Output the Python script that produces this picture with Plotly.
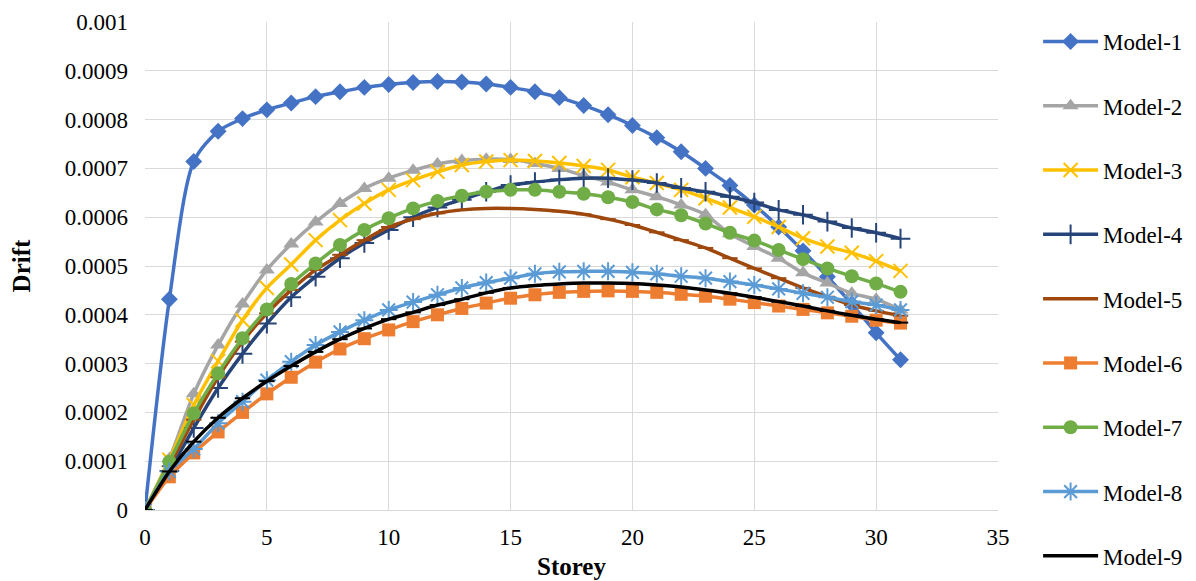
import plotly.graph_objects as go

storey = list(range(0, 32))

model_1 = [0, 0.000432, 0.000714, 0.000776, 0.000802, 0.000820, 0.000834, 0.000847, 0.000857, 0.000866,
           0.000872, 0.000876, 0.000878, 0.000877, 0.000873, 0.000866, 0.000857, 0.000845, 0.000829, 0.000810,
           0.000788, 0.000763, 0.000734, 0.000700, 0.000665, 0.000625, 0.000580, 0.000531, 0.000478, 0.000422,
           0.000363, 0.000308]
model_2 = [0, 0.000105, 0.000238, 0.000338, 0.000422, 0.000492, 0.000545, 0.000590, 0.000628, 0.000659,
           0.000680, 0.000696, 0.000709, 0.000716, 0.000719, 0.000718, 0.000710, 0.000700, 0.000685, 0.000672,
           0.000656, 0.000642, 0.000625, 0.000605, 0.000566, 0.000540, 0.000516, 0.000486, 0.000465, 0.000444,
           0.000432, 0.000410]
model_3 = [0, 0.000103, 0.000215, 0.000305, 0.000389, 0.000455, 0.000503, 0.000553, 0.000594, 0.000628,
           0.000656, 0.000676, 0.000693, 0.000707, 0.000714, 0.000717, 0.000715, 0.000711, 0.000705, 0.000697,
           0.000682, 0.000670, 0.000656, 0.000639, 0.000620, 0.000601, 0.000580, 0.000557, 0.000540, 0.000527,
           0.000510, 0.000490]
model_4 = [0, 0.000080, 0.000168, 0.000250, 0.000320, 0.000382, 0.000436, 0.000478, 0.000516, 0.000547,
           0.000574, 0.000600, 0.000620, 0.000636, 0.000652, 0.000666, 0.000672, 0.000677, 0.000680, 0.000680,
           0.000676, 0.000670, 0.000660, 0.000652, 0.000642, 0.000630, 0.000615, 0.000605, 0.000591, 0.000578,
           0.000568, 0.000556]
model_5 = [0, 0.000090, 0.000185, 0.000272, 0.000345, 0.000403, 0.000451, 0.000492, 0.000523, 0.000553,
           0.000580, 0.000596, 0.000608, 0.000615, 0.000618, 0.000618, 0.000616, 0.000612, 0.000606, 0.000596,
           0.000584, 0.000569, 0.000553, 0.000537, 0.000516, 0.000495, 0.000475, 0.000455, 0.000437, 0.000420,
           0.000408, 0.000398]
model_6 = [0, 0.000068, 0.000117, 0.000160, 0.000200, 0.000238, 0.000272, 0.000303, 0.000330, 0.000351,
           0.000369, 0.000386, 0.000400, 0.000413, 0.000424, 0.000434, 0.000441, 0.000446, 0.000448, 0.000449,
           0.000448, 0.000446, 0.000442, 0.000438, 0.000432, 0.000425, 0.000418, 0.000411, 0.000404, 0.000397,
           0.000389, 0.000383]
model_7 = [0, 0.000099, 0.000198, 0.000280, 0.000352, 0.000411, 0.000463, 0.000505, 0.000543, 0.000574,
           0.000598, 0.000618, 0.000633, 0.000644, 0.000652, 0.000656, 0.000656, 0.000652, 0.000648, 0.000641,
           0.000631, 0.000616, 0.000604, 0.000587, 0.000568, 0.000552, 0.000533, 0.000514, 0.000495, 0.000479,
           0.000464, 0.000447]
model_8 = [0, 0.000079, 0.000125, 0.000178, 0.000222, 0.000266, 0.000304, 0.000338, 0.000365, 0.000389,
           0.000410, 0.000426, 0.000441, 0.000455, 0.000466, 0.000475, 0.000484, 0.000488, 0.000489, 0.000489,
           0.000487, 0.000484, 0.000479, 0.000475, 0.000468, 0.000461, 0.000453, 0.000444, 0.000436, 0.000427,
           0.000420, 0.000410]
model_9 = [0, 0.000079, 0.000140, 0.000189, 0.000229, 0.000264, 0.000295, 0.000324, 0.000350, 0.000372,
           0.000391, 0.000405, 0.000420, 0.000432, 0.000445, 0.000455, 0.000460, 0.000463, 0.000465, 0.000465,
           0.000464, 0.000461, 0.000457, 0.000451, 0.000444, 0.000436, 0.000427, 0.000418, 0.000408, 0.000399,
           0.000391, 0.000384]

names = ["Model-1", "Model-2", "Model-3", "Model-4", "Model-5", "Model-6", "Model-7", "Model-8", "Model-9"]
series = [model_1, model_2, model_3, model_4, model_5, model_6, model_7, model_8, model_9]

y_tick_vals = [0, 0.0001, 0.0002, 0.0003, 0.0004, 0.0005, 0.0006, 0.0007, 0.0008, 0.0009, 0.001]
y_tick_text = ["0", "0.0001", "0.0002", "0.0003", "0.0004", "0.0005", "0.0006", "0.0007", "0.0008", "0.0009", "0.001"]
x_tick_vals = [0, 5, 10, 15, 20, 25, 30, 35]

colors = ["#4472C4", "#A5A5A5", "#FFC000", "#264478", "#9E480E", "#ED7D31", "#70AD47", "#5B9BD5", "#000000"]
symbols = ["diamond", "triangle-up", "x-thin-open", "cross-thin-open", "line-ew-open", "square", "circle",
           "asterisk-open", "line-ew-open"]
sizes = [13, 14, 14, 14, 11, 13, 14, 15, 11]

FONT = "Liberation Serif"

fig = go.Figure()
for i, (nm, ys) in enumerate(zip(names, series)):
    fig.add_trace(go.Scatter(
        x=storey, y=ys, name=nm, mode="lines+markers",
        legendgroup=nm,
        line=dict(color=colors[i], width=3.5, shape="spline", smoothing=0.8),
        marker=dict(symbol=symbols[i], size=sizes[i], color=colors[i],
                    line=dict(color=colors[i], width=2 if "open" in symbols[i] else 0)),
    ))

fig.update_layout(
    width=1196, height=581,
    margin=dict(l=145, r=198, t=22, b=71, autoexpand=False),
    paper_bgcolor="white", plot_bgcolor="white",
    font=dict(family=FONT, size=23, color="black"),
    legend=dict(x=1.047, y=1.0 + 2 / 488, xanchor="left", yanchor="top",
                font=dict(family=FONT, size=23), tracegroupgap=31.4, itemwidth=55,
                maxheight=620, bgcolor="rgba(0,0,0,0)"),
    xaxis=dict(range=[0, 35], tickvals=x_tick_vals, showgrid=True, gridcolor="#D9D9D9", gridwidth=1.3,
               zeroline=False, showline=True, linecolor="#D9D9D9", linewidth=1.3, ticks="",
               ticklabelstandoff=6, tickfont=dict(family=FONT, size=23),
               title=dict(text="<b>Storey</b>", font=dict(family=FONT, size=25), standoff=8)),
    yaxis=dict(range=[0, 0.001], tickvals=y_tick_vals, ticktext=y_tick_text, showgrid=True,
               gridcolor="#D9D9D9", gridwidth=1.3, zeroline=False, showline=False, ticks="",
               ticklabelstandoff=16, tickfont=dict(family=FONT, size=23),
               title=dict(text="<b>Drift</b>", font=dict(family=FONT, size=25), standoff=27)),
)

fig.write_html("out.html")
